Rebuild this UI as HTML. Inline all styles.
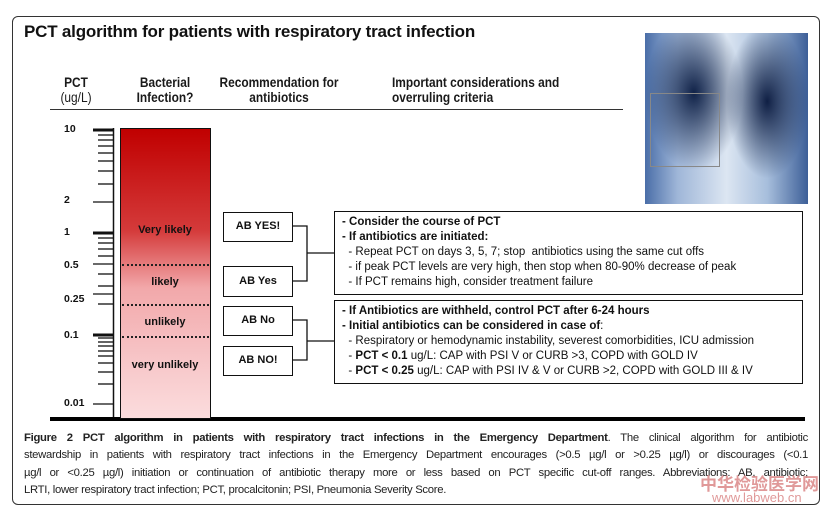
<!DOCTYPE html>
<html><head><meta charset="utf-8"><style>
body{margin:0;width:831px;height:518px;background:#fff;position:relative;overflow:hidden;font-family:"Liberation Sans",sans-serif;color:#111}
.a{position:absolute}
.hd{position:absolute;font-size:14px;font-weight:bold;line-height:15px;text-align:center;transform:scaleX(0.85);transform-origin:center top;color:#1a1a1a}
.box{position:absolute;border:1.5px solid #111;background:#fff;font-weight:bold;font-size:11px;text-align:center;box-sizing:border-box}
.tb{position:absolute;border:1.5px solid #111;box-sizing:border-box;font-size:11.5px;line-height:15px;padding:3px 0 0 7px;white-space:nowrap}
.lab{position:absolute;font-size:11px;font-weight:bold;width:90px;text-align:center;left:120px}
.tk{position:absolute;font-size:10.5px;font-weight:bold;left:64px}
.cap{position:absolute;left:24px;top:430px;width:784px;font-size:11.3px;line-height:17.3px;color:#222;letter-spacing:-0.3px}
.cap div{white-space:nowrap;text-align:justify;text-align-last:justify;width:784px;overflow:visible}
.cap div.l{text-align-last:left}
</style></head><body>
<div class="a" style="left:12px;top:16px;width:806px;height:487px;border:1.5px solid #333;border-radius:6px"></div>
<div class="a" style="left:24px;top:22px;font-size:17px;font-weight:bold;letter-spacing:-0.2px">PCT algorithm for patients with respiratory tract infection</div>
<div class="a" style="left:645px;top:33px;width:163px;height:171px;background:radial-gradient(ellipse 30% 45% at 30% 35%,#102248 0%,rgba(16,34,72,0) 100%),radial-gradient(ellipse 25% 45% at 75% 40%,#0f1f44 0%,rgba(16,34,72,0) 100%),linear-gradient(90deg,#4a6ea8 0%,#9fb6d8 20%,#dce6f2 50%,#a7bedc 75%,#3d5f98 100%)"></div>
<div class="a" style="left:650px;top:93px;width:68px;height:72px;border:1px solid #888"></div>
<div class="hd" style="left:51px;top:75px;width:50px">PCT<br><span style="font-weight:normal">(ug/L)</span></div>
<div class="hd" style="left:119px;top:75px;width:92px">Bacterial<br>Infection?</div>
<div class="hd" style="left:199px;top:75px;width:160px">Recommendation for<br>antibiotics</div>
<div class="hd" style="left:392px;top:75px;width:220px;text-align:left;transform-origin:left top">Important considerations and<br>overruling criteria</div>
<div class="a" style="left:50px;top:109px;width:573px;height:1px;background:#333"></div>
<svg class="a" style="left:0;top:0" width="831" height="518">
<g stroke="#111">
<line x1="113.5" y1="128" x2="113.5" y2="418" stroke-width="1.5"/>
<line x1="93" y1="130" x2="113" y2="130" stroke-width="3"/>
<line x1="93" y1="233" x2="113" y2="233" stroke-width="3"/>
<line x1="93" y1="335" x2="113" y2="335" stroke-width="3"/>
<line x1="93" y1="202" x2="113" y2="202" stroke-width="1.3"/>
<line x1="93" y1="264" x2="113" y2="264" stroke-width="1.3"/>
<line x1="93" y1="294" x2="113" y2="294" stroke-width="1.3"/>
<line x1="93" y1="404" x2="113" y2="404" stroke-width="1.3"/>
<g stroke-width="1.3">
<line x1="98" y1="135" x2="113" y2="135"/><line x1="98" y1="140" x2="113" y2="140"/><line x1="98" y1="146" x2="113" y2="146"/><line x1="98" y1="153" x2="113" y2="153"/><line x1="98" y1="161" x2="113" y2="161"/><line x1="98" y1="171" x2="113" y2="171"/><line x1="98" y1="184" x2="113" y2="184"/>
<line x1="98" y1="238" x2="113" y2="238"/><line x1="98" y1="243" x2="113" y2="243"/><line x1="98" y1="249" x2="113" y2="249"/><line x1="98" y1="256" x2="113" y2="256"/><line x1="98" y1="274" x2="113" y2="274"/><line x1="98" y1="286" x2="113" y2="286"/><line x1="98" y1="304" x2="113" y2="304"/>
<line x1="98" y1="338" x2="113" y2="338"/><line x1="98" y1="342" x2="113" y2="342"/><line x1="98" y1="346" x2="113" y2="346"/><line x1="98" y1="351" x2="113" y2="351"/><line x1="98" y1="356" x2="113" y2="356"/><line x1="98" y1="363" x2="113" y2="363"/><line x1="98" y1="372" x2="113" y2="372"/><line x1="98" y1="384" x2="113" y2="384"/>
</g>
<path d="M292 226 H307 V281 H292 M307 253 H334" fill="none" stroke-width="1.3"/>
<path d="M292 320 H307 V360 H292 M307 341 H334" fill="none" stroke-width="1.3"/>
</g>
<line x1="50" y1="419" x2="805" y2="419" stroke="#000" stroke-width="4"/>
</svg>
<div class="a" style="left:120px;top:128px;width:89px;height:289px;border:1.5px solid #111;background:linear-gradient(180deg,#c00000 0%,#d43a3a 35%,#f2a8aa 55%,#f7c6c8 80%,#fbdcdd 100%)"></div>
<div class="a" style="left:122px;top:264px;width:87px;border-top:2px dotted #222"></div>
<div class="a" style="left:122px;top:304px;width:87px;border-top:2px dotted #222"></div>
<div class="a" style="left:122px;top:336px;width:87px;border-top:2px dotted #222"></div>
<div class="lab" style="top:224px">Very likely</div>
<div class="lab" style="top:276px">likely</div>
<div class="lab" style="top:316px">unlikely</div>
<div class="lab" style="top:359px">very unlikely</div>
<div class="tk" style="top:123px">10</div>
<div class="tk" style="top:194px">2</div>
<div class="tk" style="top:226px">1</div>
<div class="tk" style="top:259px">0.5</div>
<div class="tk" style="top:293px">0.25</div>
<div class="tk" style="top:329px">0.1</div>
<div class="tk" style="top:397px">0.01</div>
<div class="box" style="left:223px;top:212px;width:70px;height:30px;line-height:27px">AB YES!</div>
<div class="box" style="left:223px;top:266px;width:70px;height:31px;line-height:28px">AB Yes</div>
<div class="box" style="left:223px;top:306px;width:70px;height:30px;line-height:27px">AB No</div>
<div class="box" style="left:223px;top:346px;width:70px;height:30px;line-height:27px">AB NO!</div>
<div class="tb" style="left:334px;top:211px;width:469px;height:84px"><b>- Consider the course of PCT</b><br><b>- If antibiotics are initiated:</b><br>&nbsp; - Repeat PCT on days 3, 5, 7; stop &nbsp;antibiotics using the same cut offs<br>&nbsp; - if peak PCT levels are very high, then stop when 80-90% decrease of peak<br>&nbsp; - If PCT remains high, consider treatment failure</div>
<div class="tb" style="left:334px;top:300px;width:469px;height:84px"><b>- If Antibiotics are withheld, control PCT after 6-24 hours</b><br><b>- Initial antibiotics can be considered in case of</b>:<br>&nbsp; - Respiratory or hemodynamic instability, severest comorbidities, ICU admission<br>&nbsp; - <b>PCT &lt; 0.1</b> ug/L: CAP with PSI V or CURB &gt;3, COPD with GOLD IV<br>&nbsp; - <b>PCT &lt; 0.25</b> ug/L: CAP with PSI IV &amp; V or CURB &gt;2, COPD with GOLD III &amp; IV</div>
<div class="cap">
<div><b>Figure 2 PCT algorithm in patients with respiratory tract infections in the Emergency Department</b>. The clinical algorithm for antibiotic</div>
<div>stewardship in patients with respiratory tract infections in the Emergency Department encourages (&gt;0.5 µg/l or &gt;0.25 µg/l) or discourages (&lt;0.1</div>
<div>µg/l or &lt;0.25 µg/l) initiation or continuation of antibiotic therapy more or less based on PCT specific cut-off ranges. Abbreviations: AB, antibiotic;</div>
<div class="l">LRTI, lower respiratory tract infection; PCT, procalcitonin; PSI, Pneumonia Severity Score.</div>
</div>
<div class="a" style="left:700px;top:470px;font-size:17px;font-weight:bold;color:#d98080;font-family:'Liberation Sans','Noto Sans CJK SC',sans-serif;opacity:.8">中华检验医学网</div>
<div class="a" style="left:712px;top:490px;font-size:13px;color:#d98080;opacity:.8">www.labweb.cn</div>
</body></html>
